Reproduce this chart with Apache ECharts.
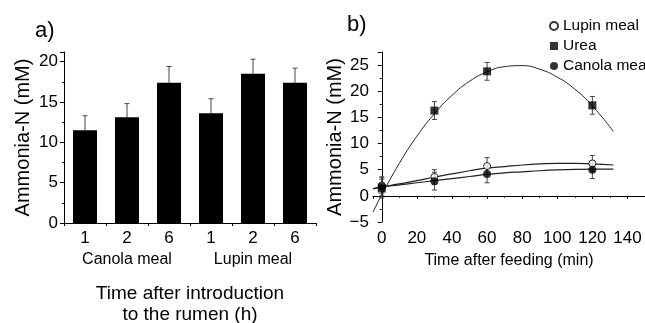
<!DOCTYPE html>
<html><head><meta charset="utf-8">
<script src="https://cdn.jsdelivr.net/npm/echarts@6/dist/echarts.min.js"></script>
<style>html,body{margin:0;padding:0;background:#fff}#c{width:645px;height:323px}</style>
</head><body><div id="c"></div>
<script>
// ---- Panel a) ----
const barCategories = ['1', '2', '6', '1', '2', '6'];
const mealGroups = ['Canola meal', 'Lupin meal'];
const barValues = [11.5, 13.1, 17.4, 13.6, 18.5, 17.4];
const barErrors = [1.8, 1.7, 2.0, 1.8, 1.8, 1.8];

// ---- Panel b) ----
const timePoints = [0, 30, 60, 120];
const lupinMeans = [2.0, 3.6, 5.7, 6.2];
const lupinErr = [1.6, 1.4, 1.6, 1.5];
const ureaMeans = [1.4, 16.3, 23.8, 17.3];
const ureaErr = [1.8, 1.7, 1.7, 1.7];
const canolaMeans = [1.8, 2.8, 4.2, 5.0];
const canolaErr = [1.8, 1.7, 1.7, 1.7];

// fitted curves
const fitTimes = [-5, 0, 10, 20, 30, 40, 50, 60, 70, 80, 90, 100, 110, 120, 132];
const ureaFit = [-3.1, 0.2, 6.2, 11.4, 15.7, 19.2, 21.9, 23.7, 24.7, 24.9, 24.2, 22.7, 20.4, 17.2, 12.3];
const lupinFit = [1.3, 1.7, 2.3, 2.9, 3.6, 4.2, 4.8, 5.3, 5.6, 5.9, 6.1, 6.2, 6.2, 6.1, 5.9];
const canolaFit = [1.4, 1.7, 2.1, 2.5, 2.9, 3.3, 3.7, 4.1, 4.4, 4.6, 4.8, 4.95, 5.05, 5.1, 5.1];

const FONT = "'Liberation Sans', Arial, sans-serif";

function errRender(capHalf, upOnly) {
  return function (params, api) {
    const x = api.value(0), lo = api.value(1), hi = api.value(2);
    const pHi = api.coord([x, hi]);
    const pLo = api.coord([x, lo]);
    const st = { stroke: '#444', lineWidth: 1 };
    const ch = [
      { type: 'line', shape: { x1: pHi[0], y1: pHi[1], x2: pLo[0], y2: pLo[1] }, style: st },
      { type: 'line', shape: { x1: pHi[0] - capHalf, y1: pHi[1], x2: pHi[0] + capHalf, y2: pHi[1] }, style: st }
    ];
    if (!upOnly) ch.push({ type: 'line', shape: { x1: pLo[0] - capHalf, y1: pLo[1], x2: pLo[0] + capHalf, y2: pLo[1] }, style: st });
    return { type: 'group', children: ch };
  };
}

const zip = (xs, ys) => xs.map((x, i) => [x, ys[i]]);
const errData = (xs, m, e) => xs.map((x, i) => [x, m[i] - e[i], m[i] + e[i]]);

const axisLineStyle = { show: true, lineStyle: { color: '#000', width: 1 } };

const chart = echarts.init(document.getElementById('c'), null, { renderer: 'canvas' });
chart.setOption({
  animation: false,
  textStyle: { fontFamily: FONT, color: '#000' },
  graphic: [
    { type: 'text', left: 35, top: 20, style: { text: 'a)', font: '22px ' + FONT, fill: '#000' } },
    { type: 'text', left: 347, top: 14, style: { text: 'b)', font: '22px ' + FONT, fill: '#000' } }
  ],
  legend: {
    orient: 'vertical', left: 544, top: 13, itemWidth: 8, itemHeight: 8, itemGap: 4,
    textStyle: { fontSize: 15.5, fontFamily: FONT, color: '#000', lineHeight: 16 },
    data: ['Lupin meal', 'Urea', 'Canola meal']
  },
  grid: [
    { left: 64, width: 252, top: 52, height: 171, outerBoundsMode: 'none', containLabel: false },
    { left: 373, right: 0, top: 52, height: 170, outerBoundsMode: 'none', containLabel: false }
  ],
  xAxis: [
    {
      gridIndex: 0, type: 'category', data: barCategories,
      axisLine: axisLineStyle,
      axisTick: { show: true, length: 3, lineStyle: { color: '#000' } },
      axisLabel: { fontSize: 17, color: '#000', margin: 7, fontFamily: FONT },
      name: 'Time after introduction\nto the rumen (h)', nameLocation: 'middle', nameGap: 60,
      nameTextStyle: { fontSize: 19, lineHeight: 21, color: '#000', fontFamily: FONT, verticalAlign: 'top' }
    },
    {
      gridIndex: 0, type: 'category', data: mealGroups, position: 'bottom', offset: 29,
      axisLine: { show: false }, axisTick: { show: false },
      axisLabel: { fontSize: 16, color: '#000', margin: 0, interval: 0, fontFamily: FONT }
    },
    {
      gridIndex: 1, type: 'value', min: -5, max: 150, splitNumber: 8,
      axisLine: axisLineStyle,
      axisTick: { show: true, length: 3, lineStyle: { color: '#000' } },
      minorTick: { show: true, splitNumber: 2, length: 2, lineStyle: { color: '#000' } },
      splitLine: { show: false },
      axisLabel: { fontSize: 17, color: '#000', margin: 8, fontFamily: FONT, showMinLabel: false, showMaxLabel: false },
      name: 'Time after feeding (min)', nameLocation: 'middle', nameGap: 31,
      nameTextStyle: { fontSize: 16, color: '#000', fontFamily: FONT, verticalAlign: 'top' }
    }
  ],
  yAxis: [
    {
      gridIndex: 0, type: 'value', min: 0, max: 21.2, interval: 5,
      axisLine: axisLineStyle,
      axisTick: { show: true, length: 4, lineStyle: { color: '#000' } },
      minorTick: { show: true, splitNumber: 2, length: 2, lineStyle: { color: '#000' } },
      splitLine: { show: false },
      axisLabel: { fontSize: 17, color: '#000', margin: 6, fontFamily: FONT, showMaxLabel: false,
        formatter: v => (v % 5 === 0 ? String(v) : '') },
      name: 'Ammonia-N (mM)', nameLocation: 'middle', nameGap: 31,
      nameTextStyle: { fontSize: 20, color: '#000', fontFamily: FONT }
    },
    {
      gridIndex: 1, type: 'value', min: -5, max: 27.5, interval: 5,
      axisLine: axisLineStyle,
      axisTick: { show: true, length: 4, lineStyle: { color: '#000' } },
      minorTick: { show: true, splitNumber: 2, length: 2, lineStyle: { color: '#000' } },
      splitLine: { show: false },
      axisLabel: { fontSize: 17, color: '#000', margin: 4, fontFamily: FONT, showMaxLabel: false,
        formatter: v => (v % 5 === 0 ? String(v).replace('-', '\u2212') : '') },
      name: 'Ammonia-N (mM)', nameLocation: 'middle', nameGap: 22,
      nameTextStyle: { fontSize: 20, color: '#000', fontFamily: FONT }
    }
  ],
  series: [
    { type: 'custom', xAxisIndex: 0, yAxisIndex: 0, z: 1,
      renderItem: errRender(2.5, true),
      data: barValues.map((v, i) => [i, v, v + barErrors[i]]) },
    { type: 'bar', xAxisIndex: 0, yAxisIndex: 0, data: barValues, barWidth: 24, z: 2,
      itemStyle: { color: '#000' } },

    { type: 'line', xAxisIndex: 2, yAxisIndex: 1, data: zip(fitTimes, ureaFit), smooth: true,
      showSymbol: false, symbol: 'none', lineStyle: { color: '#222', width: 1 }, z: 1 },
    { type: 'line', xAxisIndex: 2, yAxisIndex: 1, data: zip(fitTimes, lupinFit), smooth: true,
      showSymbol: false, symbol: 'none', lineStyle: { color: '#222', width: 1.2 }, z: 1 },
    { type: 'line', xAxisIndex: 2, yAxisIndex: 1, data: zip(fitTimes, canolaFit), smooth: true,
      showSymbol: false, symbol: 'none', lineStyle: { color: '#222', width: 1.2 }, z: 1 },

    { type: 'custom', xAxisIndex: 2, yAxisIndex: 1, z: 2, renderItem: errRender(2.5, false),
      data: errData(timePoints, lupinMeans, lupinErr) },
    { type: 'custom', xAxisIndex: 2, yAxisIndex: 1, z: 2, renderItem: errRender(2.5, false),
      data: errData(timePoints, ureaMeans, ureaErr) },
    { type: 'custom', xAxisIndex: 2, yAxisIndex: 1, z: 2, renderItem: errRender(2.5, false),
      data: errData(timePoints, canolaMeans, canolaErr) },

    { name: 'Lupin meal', type: 'scatter', xAxisIndex: 2, yAxisIndex: 1, z: 3,
      data: zip(timePoints, lupinMeans), symbol: 'circle', symbolSize: 7,
      itemStyle: { color: '#fff', borderColor: '#000', borderWidth: 1 } },
    { name: 'Urea', type: 'scatter', xAxisIndex: 2, yAxisIndex: 1, z: 4,
      data: zip(timePoints, ureaMeans), symbol: 'rect', symbolSize: 8,
      itemStyle: { color: '#000' } },
    { name: 'Canola meal', type: 'scatter', xAxisIndex: 2, yAxisIndex: 1, z: 4,
      data: zip(timePoints, canolaMeans), symbol: 'circle', symbolSize: 8,
      itemStyle: { color: '#000' } }
  ]
});
</script>
</body></html>
